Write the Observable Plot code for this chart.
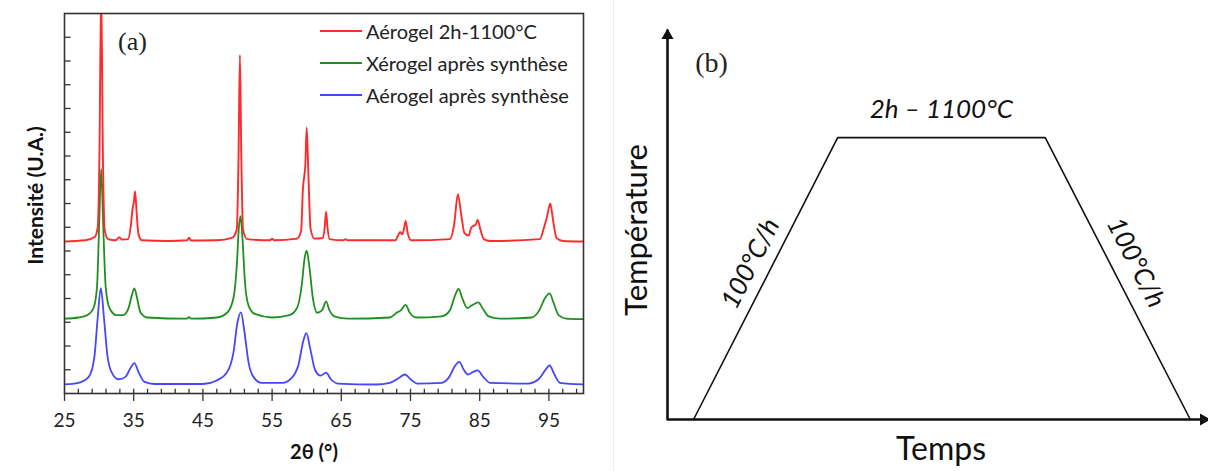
<!DOCTYPE html>
<html><head><meta charset="utf-8">
<script src="https://cdn.jsdelivr.net/npm/d3@7"></script>
<script src="https://cdn.jsdelivr.net/npm/@observablehq/plot@0.6"></script>
<style>
body{margin:0;background:#fff;}
#wrap{position:relative;width:1208px;height:471px;overflow:hidden;font-family:Lato,sans-serif;}
#pa{position:absolute;left:0;top:0;}
#pb{position:absolute;left:600px;top:0;}
#sep{position:absolute;left:613px;top:0;width:1px;height:471px;background:#ececec;}
#legend{position:absolute;left:320px;top:15px;font-size:20px;color:#222;}
.row{height:32px;display:flex;align-items:center;white-space:nowrap;}
.sw{width:42px;height:2px;margin-right:4px;}
</style></head>
<body><div id="wrap"><div id="sep"></div><div id="pa"></div><div id="pb"></div><div id="legend"></div></div>
<script>
// ---------- Panel (a): XRD patterns, [2θ, intensity (arbitrary, offset)] ----------
const seriesNames = ["Aérogel 2h-1100°C", "Xérogel après synthèse", "Aérogel après synthèse"];
const seriesColors = ["#ff2b2b", "#1f8f1f", "#4646ff"];

const aerogel1100 = [[25,6.40],[28,6.45],[29.4,6.6],[29.8,7.0],[30.05,10],[30.3,17],[30.55,10],[30.8,6.9],[31.3,6.5],[32.4,6.45],[32.9,6.58],[33.3,6.48],[34.2,6.5],[34.6,7.1],[34.85,7.8],[35.0,8.0],[35.2,8.52],[35.45,7.5],[35.7,6.7],[36.2,6.45],[40,6.42],[42.7,6.45],[43.0,6.56],[43.3,6.44],[47,6.45],[49.2,6.55],[49.9,6.9],[50.15,10],[50.35,14.25],[50.55,10],[50.8,6.9],[51.4,6.5],[54.7,6.45],[55.0,6.52],[55.3,6.45],[58.6,6.52],[59.2,6.85],[59.45,8.6],[59.65,9.15],[59.8,9.6],[60.0,11.2],[60.25,9.2],[60.55,6.95],[61.1,6.52],[62.35,6.55],[62.6,7.0],[62.8,7.66],[63.0,7.0],[63.3,6.5],[65.3,6.45],[65.6,6.5],[65.9,6.45],[72.8,6.45],[73.2,6.65],[73.5,6.8],[73.8,6.7],[74.0,6.85],[74.3,7.27],[74.6,6.75],[75.1,6.45],[80.7,6.5],[81.3,7.1],[81.85,8.39],[82.3,7.6],[82.8,6.75],[83.4,6.65],[83.8,7.0],[84.1,7.06],[84.4,7.1],[84.7,7.31],[85.1,6.9],[85.6,6.5],[86.5,6.42],[93.7,6.5],[94.3,7.0],[94.7,7.4],[95.2,8.0],[95.6,7.3],[96.1,6.55],[97,6.42],[100,6.4]];

const xerogel = [[25,3.15],[27,3.2],[28.3,3.3],[29.2,3.6],[29.7,4.5],[30.0,7.0],[30.3,9.46],[30.6,7.0],[30.95,4.5],[31.5,3.6],[32.5,3.3],[33.5,3.3],[34.2,3.55],[34.7,4.1],[35.1,4.43],[35.5,4.0],[36.0,3.4],[37,3.2],[42.7,3.15],[43.0,3.22],[43.3,3.15],[47,3.2],[48.5,3.4],[49.4,4.0],[49.9,5.4],[50.2,7.0],[50.45,7.47],[50.7,6.6],[51.1,4.6],[51.6,3.7],[52.5,3.35],[55,3.2],[57.5,3.3],[58.6,3.6],[59.3,4.6],[59.7,5.7],[60.0,6.01],[60.4,5.3],[60.9,4.0],[61.5,3.4],[62.2,3.5],[62.8,3.87],[63.3,3.5],[64,3.25],[66,3.15],[72,3.2],[73.0,3.4],[73.6,3.5],[74.3,3.73],[74.9,3.4],[75.8,3.2],[79.5,3.25],[80.7,3.5],[81.4,4.1],[81.95,4.4],[82.5,4.0],[83.2,3.6],[83.8,3.7],[84.8,3.84],[85.5,3.55],[86.3,3.25],[88,3.15],[92.5,3.2],[93.6,3.5],[94.4,4.0],[95.1,4.22],[95.7,3.8],[96.4,3.3],[97.5,3.15],[100,3.13]];

const aerogel = [[25,0.38],[27,0.45],[28.5,0.7],[29.3,1.5],[29.8,3.2],[30.25,4.44],[30.7,3.2],[31.2,1.6],[31.8,0.9],[32.8,0.6],[33.8,0.7],[34.5,1.05],[35.1,1.28],[35.7,0.9],[36.5,0.5],[38,0.4],[45,0.4],[47,0.55],[48.5,0.9],[49.4,1.7],[50.0,3.0],[50.5,3.42],[51.0,2.6],[51.6,1.3],[52.3,0.7],[53.5,0.45],[56.5,0.45],[57.8,0.65],[58.8,1.2],[59.5,2.2],[59.95,2.54],[60.5,1.9],[61.2,1.0],[62.0,0.75],[62.8,0.88],[63.5,0.6],[64.5,0.42],[70,0.38],[72,0.45],[73.3,0.65],[74.2,0.80],[75,0.6],[76,0.42],[79.5,0.45],[80.6,0.7],[81.4,1.15],[82.05,1.33],[82.7,1.0],[83.3,0.8],[84.0,0.9],[84.7,0.97],[85.5,0.7],[86.5,0.45],[92,0.42],[93.5,0.6],[94.4,0.95],[95.1,1.18],[95.8,0.8],[96.6,0.45],[100,0.38]];

const xMajorTicks = [25, 35, 45, 55, 65, 75, 85, 95];
const xMinorTicks = d3.range(27, 100, 2);
const yMinorTicks = d3.range(1, 16, 1);
const xTitle = "2θ (°)";
const yTitle = "Intensité (U.A.)";

// ---------- Panel (b): thermal treatment schematic ----------
const profileTime = [0.53, 3.46, 7.68, 10.63];
const profileTemp = [0, 10, 10, 0];
const timeAxisMax = 11;
const tempAxisMax = 13.8;
const plateauLabel = "2h – 1100°C";
const rampLabel = "100°C/h";

// ---------- Draw (a) ----------
const pa = Plot.plot({
  width: 600, height: 471,
  marginLeft: 64, marginRight: 17, marginTop: 13, marginBottom: 78,
  x: {domain: [25, 100]},
  y: {domain: [0, 16], axis: null},
  style: {fontFamily: "Lato, sans-serif", background: "transparent", color: "#222"},
  marks: [
    Plot.ruleX(xMinorTicks, {x: d => d, y1: 0, y2: 0.18, stroke: "#333", strokeWidth: 1.3}),
    Plot.ruleY(yMinorTicks, {y: d => d, x1: 25, x2: 25.95, stroke: "#333", strokeWidth: 1.3}),
    Plot.axisX({ticks: xMajorTicks, tickSize: 8, tickPadding: 12, fontSize: 19, label: null, tickFormat: d => String(d), stroke: "#333", strokeWidth: 1.3}),
    Plot.line(aerogel, {stroke: seriesColors[2], strokeWidth: 1.8, curve: "monotone-x", clip: true}),
    Plot.line(xerogel, {stroke: seriesColors[1], strokeWidth: 1.8, curve: "monotone-x", clip: true}),
    Plot.line(aerogel1100, {stroke: seriesColors[0], strokeWidth: 1.9, curve: "monotone-x", clip: true}),
    Plot.frame({stroke: "#333", strokeWidth: 1.6}),
    Plot.text(["(a)"], {frameAnchor: "top-left", textAnchor: "middle", lineAnchor: "middle", dx: 68, dy: 28, fontFamily: "Liberation Serif, serif", fontSize: 26, fill: "#222"}),
    Plot.text([xTitle], {frameAnchor: "bottom", textAnchor: "middle", lineAnchor: "middle", dx: -10, dy: 59, fontWeight: "bold", fontSize: 20, fill: "#111"}),
    Plot.text([yTitle], {frameAnchor: "left", textAnchor: "middle", lineAnchor: "middle", rotate: -90, dx: -28, dy: -8, fontWeight: "bold", fontSize: 21, fill: "#111"})
  ]
});
document.getElementById("pa").appendChild(pa);

// legend
const lg = document.getElementById("legend");
seriesNames.forEach((n, i) => {
  const r = document.createElement("div"); r.className = "row";
  const s = document.createElement("div"); s.className = "sw"; s.style.background = seriesColors[i];
  const t = document.createElement("span"); t.textContent = n;
  r.appendChild(s); r.appendChild(t); lg.appendChild(r);
});

// ---------- Draw (b) ----------
const profile = profileTime.map((t, i) => [t, profileTemp[i]]);
const plateauMid = [(profileTime[1] + profileTime[2]) / 2, profileTemp[1]];
const rampUpMid = [(profileTime[0] + profileTime[1]) / 2, (profileTemp[0] + profileTemp[1]) / 2];
const rampDownMid = [(profileTime[2] + profileTime[3]) / 2, (profileTemp[2] + profileTemp[3]) / 2];

const pb = Plot.plot({
  width: 608, height: 471,
  marginLeft: 67, marginRight: 0, marginTop: 30, marginBottom: 52,
  x: {domain: [0, timeAxisMax], axis: null},
  y: {domain: [0, tempAxisMax], axis: null},
  style: {fontFamily: "Lato, sans-serif", background: "transparent", color: "#111"},
  marks: [
    Plot.line(profile, {stroke: "#111", strokeWidth: 1.6}),
    Plot.line([[0, tempAxisMax], [0, 0], [timeAxisMax, 0]], {stroke: "#111", strokeWidth: 2.6}),
    Plot.dot([[0, tempAxisMax]], {symbol: "triangle", r: 4.5, fill: "#111", stroke: null, dy: 5}),
    Plot.dot([[timeAxisMax, 0]], {symbol: "triangle", r: 4.5, fill: "#111", stroke: null, rotate: 90, dx: -5}),
    Plot.text(["(b)"], {frameAnchor: "top-left", textAnchor: "middle", lineAnchor: "middle", dx: 44, dy: 33, fontFamily: "Liberation Serif, serif", fontSize: 28, fill: "#222"}),
    Plot.text([plateauMid], {text: () => plateauLabel, dy: -28, fontStyle: "italic", fontSize: 26, fill: "#111"}),
    Plot.text([rampUpMid], {text: () => rampLabel, rotate: -63, dx: -15, dy: -15, fontStyle: "italic", fontSize: 26, fill: "#111"}),
    Plot.text([rampDownMid], {text: () => rampLabel, rotate: 63, dx: 18, dy: -16, fontStyle: "italic", fontSize: 26, fill: "#111"}),
    Plot.text(["Température"], {frameAnchor: "left", textAnchor: "middle", lineAnchor: "middle", rotate: -90, dx: -30, dy: 5, fontSize: 31, fill: "#111"}),
    Plot.text(["Temps"], {frameAnchor: "bottom", textAnchor: "middle", lineAnchor: "middle", dx: 3, dy: 30, fontSize: 32, fill: "#111"})
  ]
});
document.getElementById("pb").appendChild(pb);
</script>
</body></html>
